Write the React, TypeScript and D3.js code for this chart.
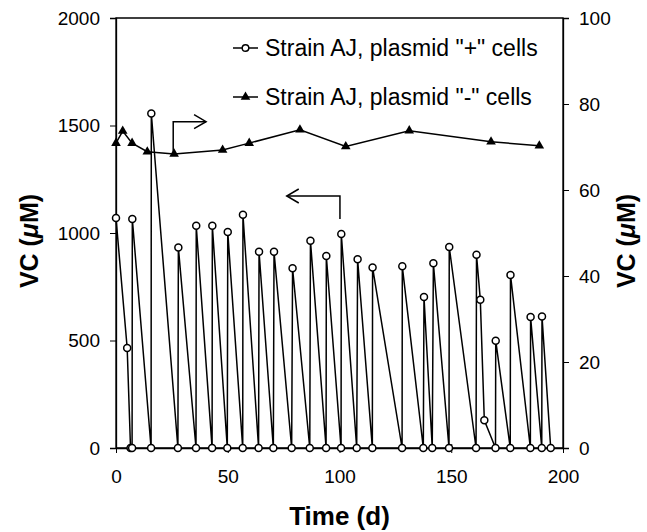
import React, { useRef, useEffect } from 'react';
import * as d3 from 'd3';

// Strain AJ, plasmid "+" cells (left axis, uM)
const plusDays = [0, 5, 6.5, 7.2, 7.3, 15.7, 15.8, 27.7, 27.9, 35.8, 35.9, 43, 43.1, 49.8, 50, 56.7, 56.8, 63.8, 64, 70.4, 70.7, 78.6, 79, 86.7, 87, 94, 94.1, 100.7, 100.8, 107.7, 108.1, 114.7, 114.8, 128, 128.1, 137.5, 137.8, 141.5, 142, 149, 149.1, 161.1, 161.3, 163, 164.8, 169.8, 169.9, 176.4, 176.5, 185.4, 185.5, 190.5, 190.6, 194.5];
const plusVC = [1070, 465, 0, 0, 1065, 0, 1556, 0, 933, 0, 1034, 0, 1034, 0, 1005, 0, 1085, 0, 913, 0, 913, 0, 836, 0, 964, 0, 893, 0, 995, 0, 878, 0, 840, 0, 845, 0, 702, 0, 859, 0, 935, 0, 899, 690, 129, 0, 499, 0, 805, 0, 609, 0, 612, 0];

// Strain AJ, plasmid "-" cells (right axis, uM)
const minusDays = [0, 3, 7.2, 14, 26, 47.7, 59.6, 82.3, 102.8, 131.2, 167.8, 189.4];
const minusVC = [70.9, 73.7, 70.9, 68.9, 68.4, 69.3, 70.9, 74, 70.1, 73.8, 71.2, 70.3];

const xTicks = [0, 50, 100, 150, 200];
const leftTicks = [0, 500, 1000, 1500, 2000];
const rightTicks = [0, 20, 40, 60, 80, 100];
const legendLabels = ['Strain AJ, plasmid "+" cells', 'Strain AJ, plasmid "-" cells'];

// annotation arrows, in (day, left-axis value)
const arrowToRight = [[25.6, 1378], [25.6, 1518], [40.3, 1518]];
const arrowToLeft = [[100.2, 1065], [100.2, 1172], [76.4, 1172]];

const App = () => {
    const ref = useRef<SVGSVGElement>(null);

    useEffect(() => {
        const width = 647;
        const height = 532;
        const margin = { top: 18, right: 84, bottom: 84, left: 116 };
        const font = 'Arial, "Liberation Sans", sans-serif';

        const svg = d3.select(ref.current);
        svg.selectAll('*').remove();
        svg.attr('width', width).attr('height', height);

        const x = d3.scaleLinear().domain([0, 200]).range([margin.left, width - margin.right]);
        const yL = d3.scaleLinear().domain([0, 2000]).range([height - margin.bottom, margin.top]);
        const yR = d3.scaleLinear().domain([0, 100]).range([height - margin.bottom, margin.top]);
        const x0 = x(0), x1 = x(200), yb = yL(0), yt = yL(2000);

        // frame
        svg.append('path')
            .attr('d', `M${x0},${yb}V${yt}H${x1}V${yb}Z`)
            .attr('fill', 'none')
            .attr('stroke', '#000')
            .attr('stroke-width', 1.3);

        const g = svg.append('g').style('font-family', font);

        // left axis
        const left = g.append('g').attr('transform', `translate(${x0},0)`);
        left.call(d3.axisLeft(yL).tickValues(d3.range(0, 2001, 100)).tickSize(6).tickFormat(() => ''));
        left.call(d3.axisLeft(yL).tickValues(leftTicks).tickSize(6).tickPadding(10).tickFormat(d3.format('d')));
        // right axis
        const right = g.append('g').attr('transform', `translate(${x1},0)`);
        right.call(d3.axisRight(yR).tickValues(d3.range(0, 101, 10)).tickSize(5).tickFormat(() => ''));
        right.call(d3.axisRight(yR).tickValues(rightTicks).tickSize(6).tickPadding(10).tickFormat(d3.format('d')));
        // bottom axis
        const bottom = g.append('g').attr('transform', `translate(0,${yb})`);
        bottom.call(d3.axisBottom(x).tickValues(d3.range(0, 201, 5)).tickSize(4).tickFormat(() => ''));
        bottom.call(d3.axisBottom(x).tickValues(xTicks).tickSizeInner(-4).tickSizeOuter(0).tickPadding(22).tickFormat(d3.format('d')));
        bottom.selectAll('.tick line').filter((d: any) => xTicks.includes(d)).attr('y2', 5).attr('y1', -4);

        g.selectAll('.domain').attr('stroke', '#000').attr('stroke-width', 1.3);
        g.selectAll('.tick line').attr('stroke', '#000').attr('stroke-width', 1);
        g.selectAll('.tick text').attr('font-size', 19).attr('fill', '#000').attr('font-family', font);

        // axis titles
        const title = (sel: any) => {
            sel.append('tspan').text('VC (');
            sel.append('tspan').attr('font-style', 'italic').text('\u03bc');
            sel.append('tspan').text('M)');
        };
        g.append('text')
            .attr('transform', `translate(38,${(yt + yb) / 2 + 8}) rotate(-90)`)
            .attr('text-anchor', 'middle')
            .attr('font-size', 25).attr('font-weight', 'bold')
            .call(title);
        g.append('text')
            .attr('transform', `translate(635,${(yt + yb) / 2 + 8}) rotate(-90)`)
            .attr('text-anchor', 'middle')
            .attr('font-size', 25).attr('font-weight', 'bold')
            .call(title);
        g.append('text')
            .attr('x', (x0 + x1) / 2).attr('y', 525)
            .attr('text-anchor', 'middle')
            .attr('font-size', 26).attr('font-weight', 'bold')
            .text('Time (d)');

        // series
        const plus = plusDays.map((d, i) => [d, plusVC[i]]);
        const minus = minusDays.map((d, i) => [d, minusVC[i]]);
        const lineL = d3.line<number[]>().x(d => x(d[0])).y(d => yL(d[1]));
        const lineR = d3.line<number[]>().x(d => x(d[0])).y(d => yR(d[1]));
        const tri = d3.symbol().type(d3.symbolTriangle).size(40);

        svg.append('path').attr('d', lineL(plus)).attr('fill', 'none').attr('stroke', '#000').attr('stroke-width', 1.5);
        svg.append('path').attr('d', lineR(minus)).attr('fill', 'none').attr('stroke', '#000').attr('stroke-width', 1.5);

        svg.append('g').selectAll('circle').data(plus).enter().append('circle')
            .attr('cx', d => x(d[0])).attr('cy', d => yL(d[1])).attr('r', 3.5)
            .attr('fill', '#fff').attr('stroke', '#000').attr('stroke-width', 1.5);
        svg.append('g').selectAll('path').data(minus).enter().append('path')
            .attr('d', tri).attr('transform', d => `translate(${x(d[0])},${yR(d[1])})`)
            .attr('fill', '#000');

        // arrows
        const arrow = (pts: number[][]) => {
            svg.append('path').attr('d', lineL(pts)).attr('fill', 'none').attr('stroke', '#000').attr('stroke-width', 1.5);
            const [ax, ay] = [x(pts[2][0]), yL(pts[2][1])];
            const dir = pts[2][0] > pts[1][0] ? -1 : 1;
            svg.append('path')
                .attr('d', `M${ax + dir * 12},${ay - 7}L${ax},${ay}L${ax + dir * 12},${ay + 7}`)
                .attr('fill', 'none').attr('stroke', '#000').attr('stroke-width', 1.5);
        };
        arrow(arrowToRight);
        arrow(arrowToLeft);

        // legend
        const legend = svg.append('g').attr('transform', 'translate(233,48)').style('font-family', font);
        legendLabels.forEach((label, i) => {
            const row = legend.append('g').attr('transform', `translate(0,${i * 49})`);
            row.append('line').attr('x1', 0).attr('x2', 25).attr('stroke', '#000').attr('stroke-width', 1.5);
            if (i === 0) {
                row.append('circle').attr('cx', 12.5).attr('r', 3.3).attr('fill', '#fff').attr('stroke', '#000').attr('stroke-width', 1.4);
            } else {
                row.append('path').attr('d', tri).attr('transform', 'translate(12.5,0)').attr('fill', '#000');
            }
            row.append('text').attr('x', 32).attr('dy', '0.35em').attr('font-size', 23).text(label);
        });
    }, []);

    return <svg ref={ref} style={{ display: 'block', position: 'absolute', left: 0, top: 0 }}></svg>;
};

export default App;
